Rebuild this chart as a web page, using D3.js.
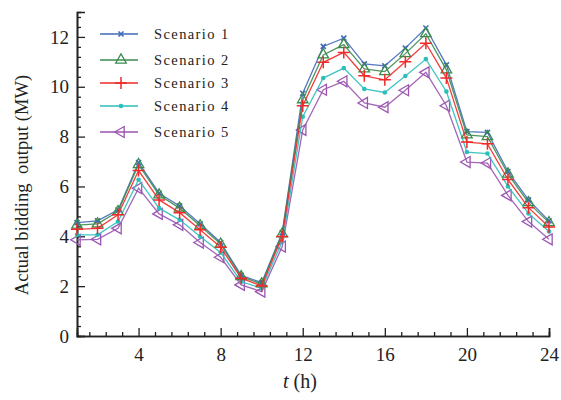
<!DOCTYPE html>
<html><head><meta charset="utf-8">
<script src="https://cdn.jsdelivr.net/npm/d3@7"></script>
<style>body{margin:0;background:#fff}svg{display:block}text{font-family:"Liberation Serif","Times New Roman",serif;fill:#222}</style>
</head><body><svg id="c" width="561" height="400"></svg>
<script>
const hours = d3.range(1, 25);
const seriesNames = ["Scenario 1","Scenario 2","Scenario 3","Scenario 4","Scenario 5"];
const s1 = [4.55,4.62,5.06,6.96,5.73,5.22,4.5,3.75,2.43,2.14,4.15,9.74,11.62,11.95,10.92,10.84,11.55,12.36,10.88,8.2,8.17,6.6,5.46,4.62];
const s2 = [4.45,4.5,4.99,6.88,5.66,5.13,4.42,3.69,2.38,2.09,4.1,9.48,11.28,11.69,10.72,10.61,11.33,12.13,10.68,8.07,8.0,6.5,5.35,4.55];
const s3 = [4.28,4.32,4.86,6.64,5.46,4.95,4.26,3.56,2.32,2.01,3.99,9.24,10.98,11.38,10.44,10.28,11.0,11.75,10.35,7.78,7.71,6.28,5.15,4.37];
const s4 = [4.06,4.06,4.59,6.27,5.13,4.66,3.99,3.35,2.18,1.92,3.79,8.8,10.35,10.75,9.91,9.77,10.43,11.11,9.81,7.38,7.32,6.0,4.92,4.19];
const s5 = [3.86,3.88,4.32,5.93,4.9,4.46,3.75,3.16,2.05,1.78,3.59,8.27,9.88,10.22,9.35,9.18,9.86,10.58,9.24,6.98,6.94,5.64,4.59,3.88];
const xTicks = [4,8,12,16,20,24];
const yTicks = [0,2,4,6,8,10,12];
const colors = ["#4169b8","#3b8b4e","#ee2a2a","#2bbfbb","#9a55b0"];
const allSeries = [s1,s2,s3,s4,s5];

const svg = d3.select("#c");
const x = d3.scaleLinear().domain([1,24]).range([77,549]);
const y = d3.scaleLinear().domain([0,13]).range([336,12]);

// minor ticks
const xMinor = [];
for (let t of xTicks) for (let k=1;k<=4;k++){const v=+(t-0.8*k).toFixed(2); if(v>=1) xMinor.push(v);}
const yMinor = [];
for (let t of yTicks.concat([14])) for (let k=1;k<=4;k++){const v=+(t-0.4*k).toFixed(2); if(v>=0 && v<=13) yMinor.push(v);}

const gx = svg.append("g").attr("transform","translate(0,336)");
gx.call(d3.axisBottom(x).tickValues(xMinor).tickSize(-4).tickFormat(""));
gx.append("g").call(d3.axisBottom(x).tickValues(xTicks).tickSize(-8).tickFormat(d3.format("d")));
const gy = svg.append("g").attr("transform","translate(77,0)");
gy.call(d3.axisLeft(y).tickValues(yMinor).tickSize(-4).tickFormat(""));
gy.append("g").call(d3.axisLeft(y).tickValues(yTicks).tickSize(-8).tickFormat(d3.format("d")));
svg.selectAll(".domain").attr("stroke","#222").attr("stroke-width",1.6);
svg.selectAll(".tick line").attr("stroke","#222").attr("stroke-width",1.3);
gx.selectAll(".tick text").attr("font-size",19).attr("dy","1.15em").style("font-family","Liberation Serif");
gy.selectAll(".tick text").attr("font-size",19).attr("x",-8).style("font-family","Liberation Serif");

// symbols
function marker(g, i, cx, cy, col){
  if(i===0){ g.append("path").attr("d",d3.symbol(d3.symbolTimes,18)()).attr("transform",`translate(${cx},${cy})`).attr("stroke",col).attr("stroke-width",1.6).attr("fill","none"); }
  else if(i===1){ g.append("path").attr("d",d3.symbol(d3.symbolTriangle,48)()).attr("transform",`translate(${cx},${cy})`).attr("stroke",col).attr("stroke-width",1.3).attr("fill","none"); }
  else if(i===2){ g.append("path").attr("d",`M${cx-6},${cy}H${cx+6}M${cx},${cy-6}V${cy+6}`).attr("stroke",col).attr("stroke-width",1.5).attr("fill","none"); }
  else if(i===3){ g.append("circle").attr("cx",cx).attr("cy",cy).attr("r",2.3).attr("fill",col); }
  else { g.append("path").attr("d",d3.symbol(d3.symbolTriangle,52)()).attr("transform",`translate(${cx},${cy}) rotate(-90)`).attr("stroke",col).attr("stroke-width",1.3).attr("fill","none"); }
}

const line = d3.line().x((d,i)=>x(hours[i])).y(d=>y(d));
[4,3,0,1,2].forEach(i=>{
  const g = svg.append("g");
  g.append("path").attr("d",line(allSeries[i])).attr("fill","none").attr("stroke",colors[i]).attr("stroke-width",1.3).attr("stroke-opacity",0.9);
  allSeries[i].forEach((v,j)=>marker(g,i,x(hours[j]),y(v),colors[i]));
});

// legend
const legY = [34,60,83,106,132];
seriesNames.forEach((n,i)=>{
  const g = svg.append("g");
  g.append("line").attr("x1",100).attr("x2",138).attr("y1",legY[i]).attr("y2",legY[i]).attr("stroke",colors[i]).attr("stroke-width",1.5);
  marker(g,i,121,legY[i],colors[i]);
  g.append("text").attr("x",154).attr("y",legY[i]).attr("dy","0.35em").attr("font-size",14.5).attr("letter-spacing",1.4).text(n);
});

// axis titles
svg.append("text").attr("transform","translate(28,185) rotate(-90)").attr("text-anchor","middle").attr("font-size",18.5).attr("letter-spacing",0.1).style("white-space","pre").text("Actual bidding  output (MW)");
const xt = svg.append("text").attr("x",300).attr("y",388).attr("text-anchor","middle").attr("font-size",20);
xt.append("tspan").attr("font-style","italic").text("t");
xt.append("tspan").text(" (h)");
</script></body></html>
